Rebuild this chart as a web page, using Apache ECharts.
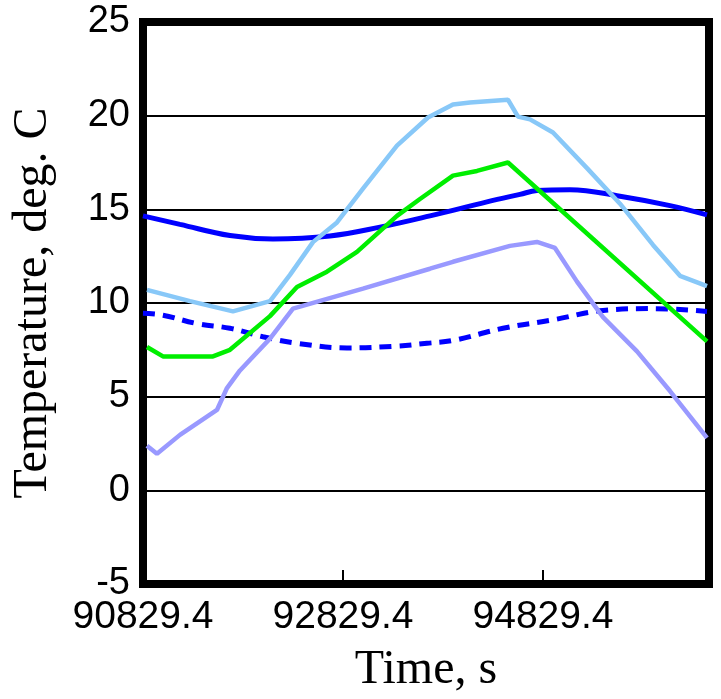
<!DOCTYPE html>
<html>
<head>
    <meta charset="UTF-8">
    <title>Temperature vs time</title>
    <script src="https://cdn.jsdelivr.net/npm/echarts@6/dist/echarts.min.js"></script>
    <style>
        html, body { margin: 0; padding: 0; background: #fff; }
        #main { width: 721px; height: 699px; }
    </style>
</head>
<body>
    <div id="main"></div>
    <script type="text/javascript">
        // x tick labels (s) and y ticks (deg C)
        var xTicks = [90829.4, 92829.4, 94829.4];
        var xMin = 90829.4, xMax = 96489;
        var yTicks = [-5, 0, 5, 10, 15, 20, 25];

        // solid dark blue
        var tBlue = [90829, 91199, 91699, 92129, 92699, 93199, 93699, 94269, 94599, 94769, 95099, 95599, 96099, 96469];
        var vBlue = [14.65, 14.2, 13.6, 13.42, 13.58, 14.05, 14.65, 15.4, 15.8, 16.0, 16.05, 15.7, 15.2, 14.7];

        // dashed dark blue
        var tDash = [90829, 91029, 91369, 91699, 92029, 92369, 92869, 93369, 93669, 93929, 94429, 94929, 95429, 95929, 96469];
        var vDash = [9.45, 9.35, 8.9, 8.65, 8.2, 7.85, 7.6, 7.7, 7.85, 8.0, 8.65, 9.1, 9.6, 9.7, 9.55];

        // light blue
        var tSky = [90869, 91299, 91729, 92099, 92299, 92529, 92769, 93029, 93369, 93679, 93929, 94099, 94479, 94579, 94699, 94929, 95269, 95599, 95929, 96199, 96469];
        var vSky = [10.7, 10.1, 9.55, 10.1, 11.5, 13.25, 14.3, 16.1, 18.4, 19.9, 20.6, 20.7, 20.85, 19.95, 19.8, 19.1, 17.2, 15.3, 13.1, 11.45, 10.9];

        // green
        var tGreen = [90869, 91029, 91529, 91699, 92099, 92369, 92669, 92969, 93369, 93599, 93929, 94169, 94479, 96469];
        var vGreen = [7.65, 7.15, 7.15, 7.5, 9.3, 10.85, 11.67, 12.73, 14.65, 15.55, 16.8, 17.05, 17.5, 7.95];

        // lavender
        var tLav = [90869, 90969, 91199, 91569, 91669, 91799, 92099, 92329, 93029, 93699, 93929, 94499, 94769, 94949, 95169, 95429, 95769, 96099, 96469];
        var vLav = [2.38, 1.95, 2.96, 4.29, 5.46, 6.4, 8.1, 9.7, 10.77, 11.83, 12.2, 13.05, 13.26, 12.94, 11.14, 9.25, 7.42, 5.3, 2.8];

        function pairs(t, v) {
            var out = [];
            for (var i = 0; i < t.length; i++) out.push([t[i], v[i]]);
            return out;
        }

        function lineSeries(t, v, color, width, type, smooth) {
            return {
                type: 'line',
                data: pairs(t, v),
                showSymbol: false,
                smooth: smooth || false,
                lineStyle: { color: color, width: width, type: type || 'solid', cap: 'butt' },
                animation: false
            };
        }

        var myChart = echarts.init(document.getElementById('main'));

        var option = {
            backgroundColor: '#fff',
            grid: {
                left: 143, right: 12, top: 22, bottom: 112,
                show: true,
                borderColor: '#000',
                borderWidth: 8
            },
            xAxis: {
                type: 'value',
                min: xMin,
                max: xMax,
                interval: 2000,
                axisLine: { show: false, onZero: false },
                axisTick: { show: true, inside: true, length: 14, lineStyle: { color: '#000', width: 2 } },
                splitLine: { show: false },
                axisLabel: {
                    showMaxLabel: false,
                    margin: 14,
                    color: '#000',
                    fontSize: 39,
                    fontFamily: 'Liberation Sans',
                    formatter: function (v) {
                        for (var i = 0; i < xTicks.length; i++) {
                            if (Math.abs(v - xTicks[i]) < 0.01) return xTicks[i].toFixed(1);
                        }
                        return '';
                    }
                },
                name: 'Time, s',
                nameLocation: 'middle',
                nameGap: 62,
                nameTextStyle: { color: '#000', fontSize: 48, fontFamily: 'Liberation Serif' }
            },
            yAxis: {
                type: 'value',
                min: yTicks[0],
                max: yTicks[yTicks.length - 1],
                interval: 5,
                axisLine: { show: false },
                axisTick: { show: false },
                splitLine: { show: true, lineStyle: { color: '#000', width: 2 } },
                axisLabel: {
                    margin: 13,
                    color: '#000',
                    fontSize: 38,
                    fontFamily: 'Liberation Sans'
                },
                name: 'Temperature, deg. C',
                nameLocation: 'middle',
                nameGap: 86,
                nameTextStyle: { color: '#000', fontSize: 48, fontFamily: 'Liberation Serif' }
            },
            series: [
                lineSeries(tBlue, vBlue, '#0000ff', 5, 'solid', 0.4),
                lineSeries(tDash, vDash, '#0000ff', 5, [12, 8], 0.4),
                lineSeries(tLav, vLav, '#9999ff', 4.5),
                lineSeries(tGreen, vGreen, '#00ee00', 4.5),
                lineSeries(tSky, vSky, '#88c8f8', 4.5)
            ]
        };
        myChart.setOption(option);
    </script>
</body>
</html>
